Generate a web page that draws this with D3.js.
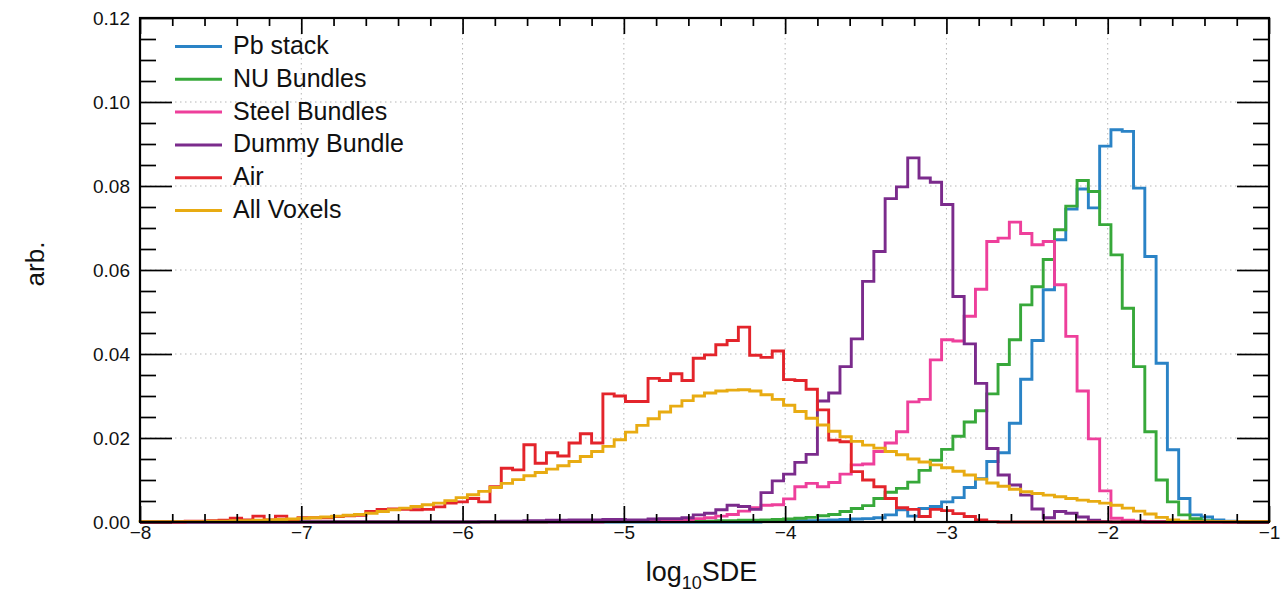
<!DOCTYPE html>
<html>
<head>
<meta charset="utf-8">
<script src="https://cdn.jsdelivr.net/npm/d3@7"></script>
<style>
  body { margin: 0; background: #fff; }
  svg { display: block; }
  text { font-family: "Liberation Sans", Arial, Helvetica, sans-serif; fill: #111; }
</style>
</head>
<body>
<svg id="chart" width="1281" height="592"></svg>
<script>
// Histogram binning: 100 equal bins of log10(SDE) between -8 and -1
const xRange = [-8, -1];
const nBins = 100;
const yRange = [0, 0.12];

const xTickValues = [-8, -7, -6, -5, -4, -3, -2, -1];
const yTickValues = [0, 0.02, 0.04, 0.06, 0.08, 0.10, 0.12];

const seriesNames = ["Pb stack", "NU Bundles", "Steel Bundles", "Dummy Bundle", "Air", "All Voxels"];
const seriesColors = ["#2a83c6", "#37a83a", "#ee3f9b", "#7b2b8c", "#e3242b", "#e8ab12"];

// Normalised bin contents (arb.), one value per bin, low to high log10 SDE
const pbStack = [
  0,0,0,0,0,0,0,0,0,0,
  0,0,0,0,0,0,0,0,0,0,
  0,0,0,0,0,0,0,0,0,0,
  0,0,0,0,0,0,0,0,0,0,
  0,0,0,0,0,0,0,0,0,0,
  0,0,0,0,0,0.0001,0.0002,0.0002,0.0003,0.0003,
  0.0004,0.0005,0.0006,0.0007,0.0008,0.0010,0.0017,0.0029,0.0014,0.0032,
  0.0037,0.0048,0.0058,0.0082,0.0103,0.0144,0.0165,0.0235,0.0340,0.0432,
  0.0553,0.0672,0.0745,0.0793,0.0748,0.0895,0.0934,0.0930,0.0795,0.0632,
  0.0378,0.0172,0.0056,0.0017,0.0012,0.0005,0.0002,0.0001,0,0
];

const nuBundles = [
  0,0,0,0,0,0,0,0,0,0,
  0,0,0,0,0,0,0,0,0,0,
  0,0,0,0,0,0,0,0,0,0,
  0,0,0,0,0,0,0.0001,0.0001,0.0001,0.0001,
  0.0001,0.0001,0.0001,0.0001,0.0001,0.0001,0.0002,0.0002,0.0002,0.0002,
  0.0002,0.0003,0.0003,0.0004,0.0004,0.0005,0.0006,0.0007,0.0009,0.0011,
  0.0015,0.0018,0.0025,0.0032,0.0039,0.0056,0.0071,0.0080,0.0095,0.0123,
  0.0147,0.0173,0.0204,0.0238,0.0265,0.0305,0.0375,0.0434,0.0517,0.0560,
  0.0625,0.0696,0.0752,0.0813,0.0787,0.0708,0.0636,0.0509,0.0370,0.0215,
  0.0100,0.0048,0.0017,0.0008,0.0003,0.0001,0,0,0,0
];

const steelBundles = [
  0,0,0,0,0,0,0,0,0,0,
  0,0,0,0,0,0,0,0,0,0,
  0,0,0,0,0,0,0,0,0,0,
  0,0,0,0,0,0,0,0,0,0,
  0,0.0001,0.0001,0.0002,0.0002,0.0003,0.0004,0.0005,0.0006,0.0008,
  0.0010,0.0014,0.0018,0.0026,0.0034,0.0040,0.0041,0.0055,0.0084,0.0092,
  0.0084,0.0094,0.0114,0.0136,0.0138,0.0168,0.0188,0.0215,0.0286,0.0292,
  0.0386,0.0434,0.0431,0.0490,0.0554,0.0668,0.0676,0.0714,0.0687,0.0660,
  0.0668,0.0565,0.0442,0.0312,0.0198,0.0074,0.0009,0.0004,0.0002,0,
  0,0,0,0,0,0,0,0,0,0
];

const dummyBundle = [
  0,0,0,0,0,0,0,0,0,0,
  0,0,0,0,0,0,0,0,0,0,
  0,0,0,0,0,0,0,0,0,0,
  0.0001,0.0001,0.0002,0.0002,0.0003,0.0003,0.0004,0.0004,0.0005,0.0005,
  0.0005,0.0006,0.0006,0.0005,0.0005,0.0007,0.0008,0.0008,0.0010,0.0017,
  0.0021,0.0029,0.0040,0.0037,0.0030,0.0070,0.0098,0.0114,0.0142,0.0161,
  0.0288,0.0307,0.0370,0.0436,0.0573,0.0644,0.0770,0.0798,0.0867,0.0819,
  0.0809,0.0756,0.0537,0.0424,0.0330,0.0175,0.0112,0.0088,0.0064,0.0031,
  0.0010,0.0025,0.0021,0.0012,0.0004,0.0001,0,0,0,0,
  0,0,0,0,0,0,0,0,0,0
];

const air = [
  0,0,0,0,0.0002,0.0002,0.0003,0.0004,0.0009,0.0005,
  0.0014,0.0005,0.0014,0.0005,0.0010,0.0010,0.0010,0.0013,0.0015,0.0016,
  0.0025,0.0030,0.0031,0.0030,0.0029,0.0030,0.0036,0.0045,0.0048,0.0056,
  0.0048,0.0084,0.0128,0.0124,0.0184,0.0140,0.0165,0.0157,0.0188,0.0210,
  0.0188,0.0305,0.0300,0.0287,0.0287,0.0342,0.0337,0.0353,0.0337,0.0390,
  0.0398,0.0422,0.0432,0.0464,0.0397,0.0392,0.0407,0.0339,0.0337,0.0316,
  0.0267,0.0195,0.0191,0.0120,0.0100,0.0084,0.0056,0.0034,0.0030,0.0013,
  0.0030,0.0027,0.0020,0.0013,0.0005,0.0001,0,0,0,0,
  0,0,0,0,0,0,0,0,0,0,
  0,0,0,0,0,0,0,0,0,0
];

const allVoxels = [
  0.0001,0.0001,0.0001,0.0001,0.0001,0.0001,0.0002,0.0002,0.0003,0.0003,
  0.0004,0.0005,0.0006,0.0007,0.0009,0.0010,0.0012,0.0014,0.0016,0.0018,
  0.0021,0.0025,0.0029,0.0033,0.0037,0.0041,0.0045,0.0051,0.0058,0.0065,
  0.0073,0.0082,0.0092,0.0101,0.0110,0.0118,0.0126,0.0134,0.0144,0.0156,
  0.0168,0.0180,0.0196,0.0214,0.0230,0.0246,0.0262,0.0276,0.0289,0.0300,
  0.0307,0.0312,0.0314,0.0315,0.0312,0.0303,0.0292,0.0278,0.0263,0.0247,
  0.0231,0.0216,0.0203,0.0192,0.0183,0.0176,0.0168,0.0160,0.0150,0.0143,
  0.0136,0.0129,0.0121,0.0112,0.0102,0.0093,0.0085,0.0078,0.0072,0.0068,
  0.0064,0.0060,0.0056,0.0052,0.0049,0.0045,0.0040,0.0033,0.0026,0.0019,
  0.0011,0.0005,0.0002,0.0001,0.0001,0.0001,0.0001,0.0001,0.0001,0.0001
];

const seriesValues = [pbStack, nuBundles, steelBundles, dummyBundle, air, allVoxels];

// ---- layout ----
const svg = d3.select("#chart");
const plot = { left: 140, right: 1269, top: 18, bottom: 522 };

const x = d3.scaleLinear().domain(xRange).range([plot.left, plot.right]);
const y = d3.scaleLinear().domain(yRange).range([plot.bottom, plot.top]);

const binWidth = (xRange[1] - xRange[0]) / nBins;
const binEdges = d3.range(nBins + 1).map(i => xRange[0] + i * binWidth);

// ---- grid ----
const grid = svg.append("g").attr("stroke", "#b5b5b5").attr("stroke-width", 1)
  .attr("stroke-dasharray", "1.5,3.5");
grid.selectAll("line.gx").data(xTickValues.slice(1, -1)).join("line")
  .attr("x1", d => x(d)).attr("x2", d => x(d))
  .attr("y1", plot.top).attr("y2", plot.bottom);
grid.selectAll("line.gy").data(yTickValues.slice(1, -1)).join("line")
  .attr("x1", plot.left).attr("x2", plot.right)
  .attr("y1", d => y(d)).attr("y2", d => y(d));

// ---- histograms (outline steps) ----
function stepPoints(values) {
  const pts = [[binEdges[0], 0]];
  values.forEach((v, i) => {
    pts.push([binEdges[i], v]);
    pts.push([binEdges[i + 1], v]);
  });
  pts.push([binEdges[nBins], 0]);
  return pts;
}
const line = d3.line().x(d => x(d[0])).y(d => y(d[1]));

svg.append("g").selectAll("path").data(seriesValues).join("path")
  .attr("d", d => line(stepPoints(d)))
  .attr("fill", "none")
  .attr("stroke", (d, i) => seriesColors[i])
  .attr("stroke-width", 2.9)
  .attr("stroke-linejoin", "miter");

// ---- axes ----
const minorX = d3.range(-8, -1 + 1e-9, 0.2).filter(v => Math.abs(v - Math.round(v)) > 1e-6);
const minorY = d3.range(0, 0.12 + 1e-9, 0.005).filter(v => Math.abs(v / 0.02 - Math.round(v / 0.02)) > 1e-6);

function styleAxis(g) {
  g.select(".domain").remove();
  g.selectAll(".tick line").attr("stroke", "#000").attr("stroke-width", 1.7);
  g.selectAll(".tick text").attr("font-size", 19).attr("fill", "#111")
    .attr("font-family", "Liberation Sans, Arial, sans-serif");
}

// bottom
svg.append("g").attr("transform", `translate(0,${plot.bottom})`)
  .call(d3.axisBottom(x).tickValues(xTickValues).tickSizeInner(-16).tickSizeOuter(0).tickPadding(4)
    .tickFormat(d3.format("d")))
  .call(styleAxis);
svg.append("g").attr("transform", `translate(0,${plot.bottom})`)
  .call(d3.axisBottom(x).tickValues(minorX).tickSizeInner(-8).tickSizeOuter(0).tickFormat(""))
  .call(styleAxis);
// top
svg.append("g").attr("transform", `translate(0,${plot.top})`)
  .call(d3.axisTop(x).tickValues(xTickValues).tickSizeInner(-16).tickSizeOuter(0).tickFormat(""))
  .call(styleAxis);
svg.append("g").attr("transform", `translate(0,${plot.top})`)
  .call(d3.axisTop(x).tickValues(minorX).tickSizeInner(-8).tickSizeOuter(0).tickFormat(""))
  .call(styleAxis);
// left
svg.append("g").attr("transform", `translate(${plot.left},0)`)
  .call(d3.axisLeft(y).tickValues(yTickValues).tickSizeInner(-32).tickSizeOuter(0).tickPadding(10)
    .tickFormat(d3.format(".2f")))
  .call(styleAxis);
svg.append("g").attr("transform", `translate(${plot.left},0)`)
  .call(d3.axisLeft(y).tickValues(minorY).tickSizeInner(-16).tickSizeOuter(0).tickFormat(""))
  .call(styleAxis);
// right
svg.append("g").attr("transform", `translate(${plot.right},0)`)
  .call(d3.axisRight(y).tickValues(yTickValues).tickSizeInner(-32).tickSizeOuter(0).tickFormat(""))
  .call(styleAxis);
svg.append("g").attr("transform", `translate(${plot.right},0)`)
  .call(d3.axisRight(y).tickValues(minorY).tickSizeInner(-16).tickSizeOuter(0).tickFormat(""))
  .call(styleAxis);

// frame
svg.append("rect")
  .attr("x", plot.left).attr("y", plot.top)
  .attr("width", plot.right - plot.left).attr("height", plot.bottom - plot.top)
  .attr("fill", "none").attr("stroke", "#000").attr("stroke-width", 2.2);

// ---- axis titles ----
const xTitle = svg.append("text")
  .attr("x", (plot.left + plot.right) / 2 - 3).attr("y", 581)
  .attr("text-anchor", "middle").attr("font-size", 27);
xTitle.append("tspan").text("log");
xTitle.append("tspan").attr("font-size", 18).attr("dy", 8).text("10");
xTitle.append("tspan").attr("dy", -8).text("SDE");

svg.append("text")
  .attr("transform", `translate(44,${(plot.top + plot.bottom) / 2 - 6}) rotate(-90)`)
  .attr("text-anchor", "middle").attr("font-size", 26)
  .text("arb.");

// ---- legend ----
const legend = svg.append("g");
const legendRowY = i => 46.5 + i * 32.8;
legend.selectAll("line").data(seriesNames).join("line")
  .attr("x1", 175).attr("x2", 222)
  .attr("y1", (d, i) => legendRowY(i)).attr("y2", (d, i) => legendRowY(i))
  .attr("stroke", (d, i) => seriesColors[i]).attr("stroke-width", 3);
legend.selectAll("text").data(seriesNames).join("text")
  .attr("x", 233).attr("y", (d, i) => legendRowY(i) + 7.5)
  .attr("font-size", 25)
  .text(d => d);
</script>
</body>
</html>
